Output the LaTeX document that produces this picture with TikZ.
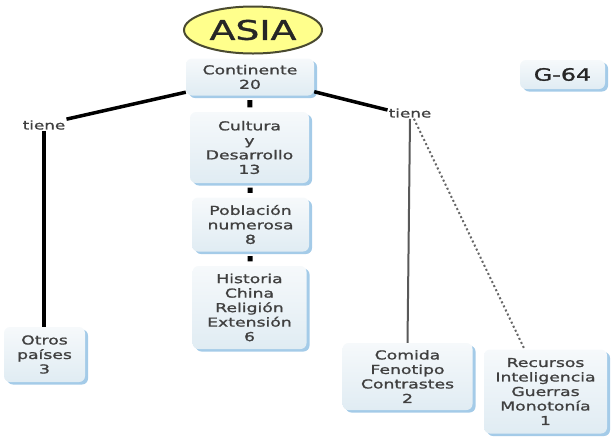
\documentclass[tikz,border=0pt]{standalone}
\usepackage{fontspec}
\newfontfamily\mapfont[FakeStretch=1.4,FakeBold=1.3]{DejaVu Sans}
\usetikzlibrary{shadows,calc,shapes.geometric}
\definecolor{boxfill}{HTML}{E0ECF3}
\definecolor{boxtop}{HTML}{F6F9FB}
\definecolor{shadowblue}{HTML}{A4CBE8}
\definecolor{txt}{HTML}{404040}
\definecolor{asiafill}{HTML}{FFFF8C}
\definecolor{asiadraw}{HTML}{4A4A30}
\begin{document}
\begin{tikzpicture}[x=1pt,y=-1pt,
  concept/.style={rounded corners=6pt, top color=boxtop, bottom color=boxfill, draw=none,
    drop shadow={shadow xshift=3pt, shadow yshift=-2.5pt, fill=shadowblue, opacity=1},
    align=center, font=\mapfont\fontsize{12.3}{14.5}\selectfont, text=txt, inner sep=2pt},
  linklabel/.style={font=\mapfont\fontsize{12}{14}\selectfont, text=txt, inner sep=1pt},
  thickline/.style={line width=3.5pt, black},
  stackline/.style={line width=5pt, black, shorten <=4.5pt, shorten >=4.5pt},
  thinline/.style={line width=2pt, black!65},
  dotline/.style={line width=2pt, black!60, dash pattern=on 2pt off 2.5pt}]
\useasboundingbox (0,0) rectangle (612,440);

\node[ellipse, draw=asiadraw, line width=2pt, fill=asiafill, minimum width=138pt, minimum height=47pt,
  inner sep=0pt, font=\mapfont\fontsize{27}{30}\selectfont, text=black!85] (asia) at (253,30) {ASIA};

\node[concept, minimum width=128pt, minimum height=37pt] (cont) at (250,77) {Continente\\20};
\node[concept, minimum width=119pt, minimum height=71pt] (cult) at (249.5,147.5) {Cultura\\y\\Desarrollo\\13};
\node[concept, minimum width=117pt, minimum height=54pt] (pobl) at (250.5,224.5) {Población\\numerosa\\8};
\node[concept, minimum width=114pt, minimum height=83pt] (hist) at (249.5,307.5) {Historia\\China\\Religión\\Extensión\\6};
\node[concept, minimum width=81pt, minimum height=55pt] (otros) at (44.5,354.5) {Otros\\países\\3};
\node[concept, minimum width=130pt, minimum height=67pt] (comida) at (407.5,376.5) {Comida\\Fenotipo\\Contrastes\\2};
\node[concept, minimum width=123pt, minimum height=84pt] (recursos) at (545.5,391.5) {Recursos\\Inteligencia\\Guerras\\Monotonía\\1};
\node[concept, minimum width=85pt, minimum height=29pt, font=\mapfont\fontsize{17}{20}\selectfont, text=black!85] (g64) at (562.5,74.5) {G-64};

\node[linklabel] (tieneL) at (44,125) {tiene};
\node[linklabel] (tieneR) at (410,113) {tiene};

\draw[stackline] (cont) -- (cult);
\draw[stackline] (cult) -- (pobl);
\draw[stackline] (pobl) -- (hist);

\draw[thickline] ([yshift=3.5pt]cont.south west) -- (tieneL.north east);
\draw[thickline] ([yshift=4pt]cont.south east) -- ([yshift=3pt]tieneR.west);
\draw[line width=4.5pt, black] (tieneL.south) -- (tieneL.south |- otros.north);
\draw[thinline] (tieneR.south) -- (comida.north);
\draw[dotline] ([xshift=4pt]tieneR.south) -- ($(recursos.north west)!0.33!(recursos.north east)$);
\end{tikzpicture}
\end{document}
